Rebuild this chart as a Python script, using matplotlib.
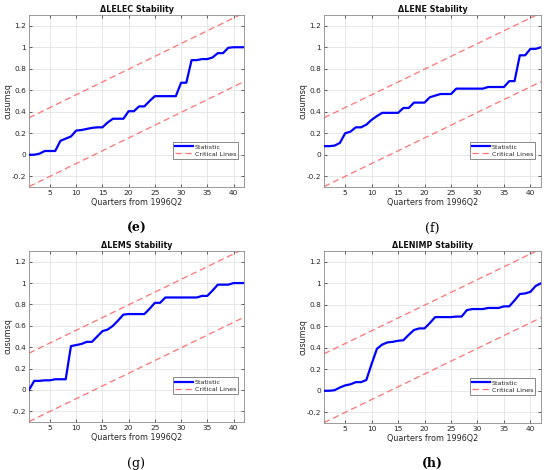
import matplotlib
matplotlib.use("Agg")
import matplotlib.pyplot as plt
import numpy as np

quarters = list(range(1, 43))

elec = [0.0, 0.0, 0.01, 0.035, 0.035, 0.035, 0.13, 0.15, 0.17, 0.225,
        0.23, 0.24, 0.25, 0.255, 0.255, 0.30, 0.335, 0.335, 0.335, 0.405,
        0.405, 0.45, 0.45, 0.50, 0.545, 0.545, 0.545, 0.545, 0.545, 0.67,
        0.67, 0.88, 0.88, 0.89, 0.89, 0.905, 0.945, 0.945, 0.995, 1.0,
        1.0, 1.0]
ene = [0.08, 0.08, 0.085, 0.11, 0.20, 0.215, 0.255, 0.255, 0.28, 0.325,
       0.36, 0.39, 0.39, 0.39, 0.39, 0.435, 0.435, 0.485, 0.485, 0.485,
       0.535, 0.55, 0.565, 0.565, 0.565, 0.615, 0.615, 0.615, 0.615, 0.615,
       0.615, 0.63, 0.63, 0.63, 0.63, 0.685, 0.685, 0.925, 0.925, 0.985,
       0.985, 1.0]
ems = [0.0, 0.085, 0.085, 0.09, 0.09, 0.10, 0.10, 0.10, 0.41, 0.42,
       0.43, 0.45, 0.45, 0.50, 0.55, 0.565, 0.60, 0.65, 0.705, 0.71,
       0.71, 0.71, 0.71, 0.76, 0.815, 0.815, 0.865, 0.865, 0.865, 0.865,
       0.865, 0.865, 0.865, 0.88, 0.88, 0.93, 0.985, 0.985, 0.985, 1.0,
       1.0, 1.0]
enimp = [0.0, 0.0, 0.005, 0.03, 0.05, 0.06, 0.08, 0.08, 0.10, 0.25,
         0.39, 0.43, 0.45, 0.455, 0.465, 0.47, 0.52, 0.565, 0.58, 0.58,
         0.63, 0.685, 0.685, 0.685, 0.685, 0.69, 0.69, 0.75, 0.76, 0.76,
         0.76, 0.77, 0.77, 0.77, 0.785, 0.785, 0.84, 0.90, 0.905, 0.92,
         0.975, 1.0]

series = [elec, ene, ems, enimp]
titles = ["\u0394LELEC Stability", "\u0394LENE Stability",
          "\u0394LEMS Stability", "\u0394LENIMP Stability"]
panel_labels = ["(e)", "(f)", "(g)", "(h)"]
label_weights = ["bold", "normal", "normal", "bold"]

crit_offset = 0.32
n_obs = 42

xticks = [5, 10, 15, 20, 25, 30, 35, 40]
yticks = [-0.2, 0, 0.2, 0.4, 0.6, 0.8, 1.0, 1.2]
ytick_labels = ["-0.2", "0", "0.2", "0.4", "0.6", "0.8", "1", "1.2"]

W, H = 550, 470
fig = plt.figure(figsize=(W / 100, H / 100), dpi=100)

# axes pixel boxes: left, top, right, bottom
boxes = [(29, 15, 244, 187), (324, 15, 541, 187),
         (29, 251, 244, 422), (324, 251, 541, 423)]
label_y = [228, 228, 463, 463]

tick_col = "#262626"
for i, (data, title, box) in enumerate(zip(series, titles, boxes)):
    l, t, r, b = box
    ax = fig.add_axes([l / W, 1 - b / H, (r - l) / W, (b - t) / H])
    x = np.array(quarters)
    mid = x / n_obs
    ax.plot(x, data, color=(0, 0, 1), lw=1.6, label="Statistic", zorder=3)
    ax.plot(x, mid + crit_offset, color=(1, 0.45, 0.45), lw=0.9,
            ls=(0, (5, 3)), label="Critical Lines", zorder=2)
    ax.plot(x, mid - crit_offset, color=(1, 0.45, 0.45), lw=0.9,
            ls=(0, (5, 3)), zorder=2)
    ax.set_xlim(1, 42)
    ax.set_ylim(-0.3, 1.3)
    ax.set_xticks(xticks)
    ax.set_yticks(yticks)
    ax.set_yticklabels(ytick_labels)
    ax.grid(True, color="#e3e3e3", lw=0.6)
    ax.set_axisbelow(True)
    ax.tick_params(direction="in", length=2.5, width=0.5, labelsize=5.3,
                   colors=tick_col, pad=2, top=True, right=True)
    for s in ax.spines.values():
        s.set_color("#8a8a8a")
        s.set_linewidth(0.6)
    ax.set_title(title, fontsize=5.8, fontweight="bold", pad=2.5, color="#111111")
    ax.set_xlabel("Quarters from 1996Q2", fontsize=5.8, color=tick_col, labelpad=1.5)
    ax.set_ylabel("cusumsq", fontsize=5.8, color=tick_col)
    ax.yaxis.set_label_coords(-0.078, 0.5)
    leg = ax.legend(loc="lower right", bbox_to_anchor=(0.972, 0.165),
                    fontsize=4.6, frameon=True, fancybox=False,
                    borderpad=0.3, handlelength=2.8, labelspacing=0.25,
                    borderaxespad=0.0, handletextpad=0.2)
    leg.get_frame().set_edgecolor("#333333")
    leg.get_frame().set_linewidth(0.5)
    for txt in leg.get_texts():
        txt.set_color(tick_col)
    fig.text((l + r) / 2 / W, 1 - label_y[i] / H, panel_labels[i],
             ha="center", va="center", fontsize=9, family="DejaVu Serif",
             fontweight=label_weights[i])

fig.savefig("out.png", dpi=100, facecolor="white")
